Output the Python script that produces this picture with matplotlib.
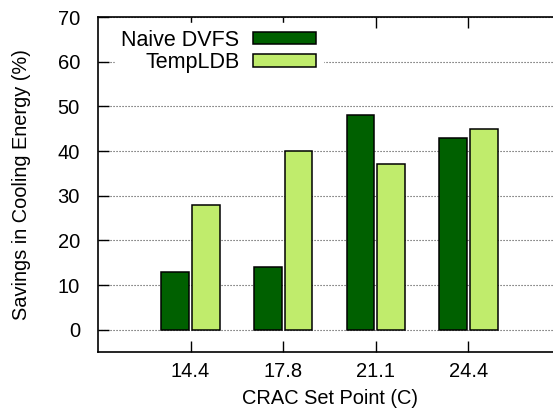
import numpy as np
import matplotlib
matplotlib.use("Agg")
import matplotlib.pyplot as plt

# data
set_points = ["14.4", "17.8", "21.1", "24.4"]
naive_dvfs = [13, 14, 48, 43]
temp_ldb = [28, 40, 37, 45]

plt.rcParams['font.family'] = ['Liberation Sans', 'DejaVu Sans']
plt.rcParams['font.size'] = 14.5

fig = plt.figure(figsize=(5.53, 4.19), dpi=100)
ax = fig.add_axes([98 / 553, 1 - 352 / 419, (561 - 98) / 553, (352 - 17) / 419])

x = np.arange(len(set_points))
w = 0.30
ax.bar(x - 0.165, naive_dvfs, w, color='#006000', edgecolor='black', lw=1.1,
       label='Naive DVFS', zorder=3)
ax.bar(x + 0.165, temp_ldb, w, color='#c0ec6c', edgecolor='black', lw=1.1,
       label='TempLDB', zorder=3)

ax.set_xlim(-1, 4)
ax.set_ylim(-5, 70)
ax.set_xticks(x)
ax.set_xticklabels(set_points)
ax.set_yticks(range(0, 71, 10))

ax.tick_params(direction='in', length=8, width=1.0, top=True, right=False,
               labelsize=14.5)
ax.tick_params(axis='y', pad=13)
ax.tick_params(axis='x', pad=7)
ax.yaxis.grid(True, linestyle=(0, (1, 1.7)), color='#444444', lw=0.8, zorder=0)
ax.set_axisbelow(True)
ax.spines['right'].set_visible(False)
for s in ['left', 'top', 'bottom']:
    ax.spines[s].set_linewidth(1.2)

ax.set_xlabel('CRAC Set Point (C)', fontsize=14.4, labelpad=6)
ax.set_ylabel('Savings in Cooling Energy (%)', fontsize=14.4, labelpad=19)

leg = ax.legend(loc='upper left', bbox_to_anchor=(0.013, 1.013), markerfirst=False,
                frameon=True, fancybox=False, edgecolor='white', framealpha=1,
                handlelength=2.93, handleheight=0.51, handletextpad=0.65,
                labelspacing=0.05, borderpad=0.3, fontsize=15.5)
leg.set_zorder(5)

fig.savefig('out.png', dpi=100)
